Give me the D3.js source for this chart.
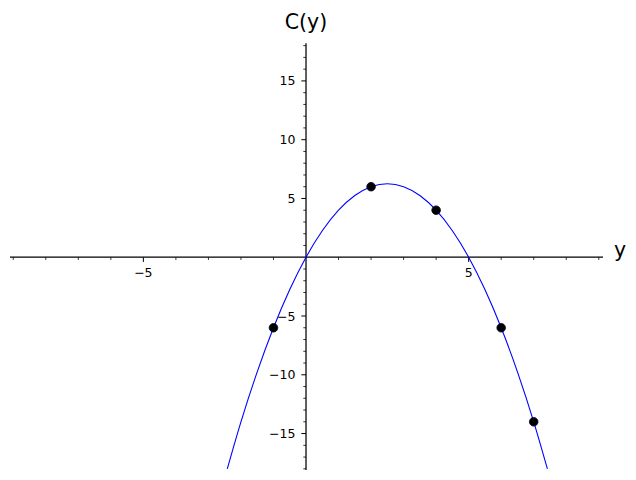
<!DOCTYPE html>
<html><head><meta charset="utf-8">
<script src="https://cdn.jsdelivr.net/npm/d3@7"></script>
<style>body{margin:0;background:#fff}svg{display:block}</style>
</head><body>
<script>
// Data
const pointY = [-1, 2, 4, 6, 7];
const pointC = [-6, 6, 4, -6, -14];
const curveY = [-2.42, -2, -1.5, -1, -0.5, 0, 0.5, 1, 1.5, 2, 2.5, 3, 3.5, 4, 4.5, 5, 5.5, 6, 6.5, 7, 7.42];
const curveC = [-18, -14, -9.75, -6, -2.75, 0, 2.25, 4, 5.25, 6, 6.25, 6, 5.25, 4, 2.25, 0, -2.75, -6, -9.75, -14, -18];
const xTickLabels = [-5, 5];
const yTickLabels = [-15, -10, -5, 5, 10, 15];
const xLabel = "y";
const yLabel = "C(y)";

const W = 636, H = 480;
const svg = d3.select("body").append("svg").attr("width", W).attr("height", H);

const x = d3.scaleLinear().domain([-9.1, 9.13]).range([10, 603]);
const y = d3.scaleLinear().domain([-18.1, 18.2]).range([470, 43.3]);

const x0 = x(0), y0 = y(0);
const font = "DejaVu Sans, sans-serif";
const minus = v => String(v).replace("-", "\u2212");

svg.append("defs").append("clipPath").attr("id", "clip")
  .append("rect").attr("x", 10).attr("y", 43.3).attr("width", 593).attr("height", 426.7);

// x axis
const gx = svg.append("g");
gx.append("line").attr("x1", x.range()[0]).attr("x2", x.range()[1]).attr("y1", y0).attr("y2", y0)
  .attr("stroke", "#000").attr("stroke-width", 1.25);
d3.range(-9, 10).filter(v => v !== 0).forEach(v => {
  const major = v % 5 === 0;
  gx.append("line").attr("x1", x(v)).attr("x2", x(v)).attr("y1", y0).attr("y2", y0 + (major ? 4.7 : 2.7))
    .attr("stroke", "#000").attr("stroke-width", major ? 1 : 0.8);
});
xTickLabels.forEach(v => {
  gx.append("text").attr("x", x(v)).attr("y", y0 + 20).attr("text-anchor", "middle")
    .attr("font-family", font).attr("font-size", 12.5).text(minus(v));
});

// y axis
const gy = svg.append("g");
gy.append("line").attr("x1", x0).attr("x2", x0).attr("y1", y.range()[0]).attr("y2", y.range()[1])
  .attr("stroke", "#000").attr("stroke-width", 1.25);
d3.range(-18, 19).filter(v => v !== 0).forEach(v => {
  const major = v % 5 === 0;
  gy.append("line").attr("x1", x0).attr("x2", x0 - (major ? 4.7 : 2.7)).attr("y1", y(v)).attr("y2", y(v))
    .attr("stroke", "#000").attr("stroke-width", major ? 1 : 0.8);
});
yTickLabels.forEach(v => {
  gy.append("text").attr("x", x0 - 10.5).attr("y", y(v)).attr("dy", "0.36em").attr("text-anchor", "end")
    .attr("font-family", font).attr("font-size", 12.5).text(minus(v));
});

// axis labels
svg.append("text").attr("x", 614).attr("y", y0).attr("font-family", font).attr("font-size", 20.5).text(xLabel);
svg.append("text").attr("x", x0).attr("y", 29).attr("text-anchor", "middle").attr("font-family", font).attr("font-size", 20.5).text(yLabel);

// curve
const curvePts = curveY.map((v, i) => [v, curveC[i]]);
svg.append("path").datum(curvePts).attr("clip-path", "url(#clip)")
  .attr("d", d3.line().x(d => x(d[0])).y(d => y(d[1])).curve(d3.curveNatural))
  .attr("fill", "none").attr("stroke", "#0000ff").attr("stroke-width", 1.1);

// points
svg.append("g").selectAll("circle").data(pointY.map((v, i) => [v, pointC[i]])).join("circle")
  .attr("cx", d => x(d[0])).attr("cy", d => y(d[1])).attr("r", 4.3)
  .attr("fill", "#000").attr("stroke", "#000022").attr("stroke-width", 0.8);
</script>
</body></html>
